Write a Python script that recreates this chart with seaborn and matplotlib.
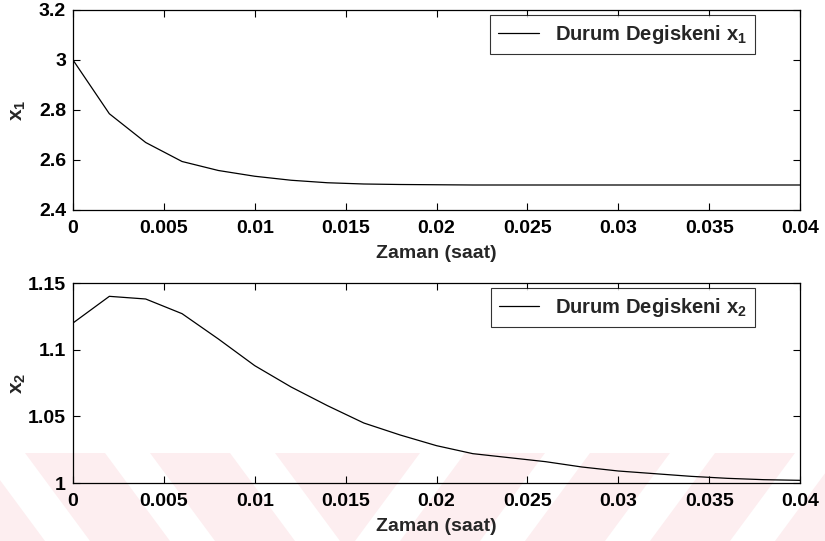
import numpy as np
import pandas as pd
import seaborn as sns
import matplotlib.pyplot as plt
from matplotlib.patches import Polygon
from matplotlib.ticker import FuncFormatter

# time samples (saat) and the two state variables
zaman = [0.000, 0.002, 0.004, 0.006, 0.008, 0.010, 0.012, 0.014, 0.016, 0.018,
         0.020, 0.022, 0.024, 0.026, 0.028, 0.030, 0.032, 0.034, 0.036, 0.038, 0.040]
x1 = [3.000, 2.785, 2.670, 2.594, 2.558, 2.535, 2.519, 2.509, 2.504, 2.502,
      2.501, 2.500, 2.500, 2.500, 2.500, 2.500, 2.500, 2.500, 2.500, 2.500, 2.500]
x2 = [1.120, 1.140, 1.138, 1.127, 1.108, 1.088, 1.072, 1.058, 1.045, 1.036,
      1.028, 1.022, 1.019, 1.016, 1.012, 1.009, 1.007, 1.005, 1.0035, 1.0025, 1.002]

xticks = [0, 0.005, 0.01, 0.015, 0.02, 0.025, 0.03, 0.035, 0.04]
yticks_top = [2.4, 2.6, 2.8, 3.0, 3.2]
yticks_bot = [1.0, 1.05, 1.1, 1.15]

df = pd.DataFrame({"zaman": zaman, "x1": x1, "x2": x2})

sns.set_style("ticks")
plt.rcParams["font.family"] = ["Liberation Sans", "DejaVu Sans"]
plt.rcParams["font.weight"] = "bold"
plt.rcParams["mathtext.fontset"] = "custom"
plt.rcParams["mathtext.rm"] = "Liberation Sans:bold"
plt.rcParams["mathtext.it"] = "Liberation Sans:bold"
plt.rcParams["mathtext.default"] = "rm"

fig = plt.figure(figsize=(8.25, 5.41), dpi=100)

# faint watermark along the bottom of the page (pink bands, white diagonal gaps)
pink = "#fdeef0"
band = Polygon([[0, 88 / 541], [1, 88 / 541], [1, 0], [0, 0]], closed=True,
               transform=fig.transFigure, facecolor=pink, edgecolor="none", zorder=-20)
fig.patches.append(band)
for x0 in [-20, 105, 230]:
    fig.patches.append(Polygon([[x0 / 825, 88 / 541], [(x0 + 45) / 825, 88 / 541],
                                [(x0 + 110) / 825, 0], [(x0 + 65) / 825, 0]],
                               closed=True, transform=fig.transFigure,
                               facecolor="white", edgecolor="none", zorder=-19))
for x0 in [420, 545, 670, 795]:
    fig.patches.append(Polygon([[x0 / 825, 88 / 541], [(x0 + 45) / 825, 88 / 541],
                                [(x0 - 20) / 825, 0], [(x0 - 65) / 825, 0]],
                               closed=True, transform=fig.transFigure,
                               facecolor="white", edgecolor="none", zorder=-19))

ax1 = fig.add_axes([73 / 825, 1 - 210 / 541, 727 / 825, 200 / 541])
ax2 = fig.add_axes([73 / 825, 1 - 483 / 541, 727 / 825, 200 / 541])

panels = [(ax1, "x1", yticks_top, "x$_1$", "Durum Degiskeni x$_1$"),
          (ax2, "x2", yticks_bot, "x$_2$", "Durum Degiskeni x$_2$")]

fmt = FuncFormatter(lambda v, p: "%g" % round(v, 4))

for ax, col, yt, ylab, leg in panels:
    ax.patch.set_alpha(0)
    sns.lineplot(data=df, x="zaman", y=col, ax=ax, color="black", linewidth=0.9,
                 label=leg)
    ax.set_xlim(0, 0.04)
    ax.set_ylim(yt[0], yt[-1])
    ax.set_xticks(xticks)
    ax.set_yticks(yt)
    ax.xaxis.set_major_formatter(fmt)
    ax.yaxis.set_major_formatter(fmt)
    ax.tick_params(axis="x", pad=7)
    ax.tick_params(direction="in", length=5, width=0.8, top=True, right=True,
                   labelsize=14, colors="black")
    ax.tick_params(axis="y", pad=5)
    for s in ax.spines.values():
        s.set_linewidth(0.9)
        s.set_color("black")
    ax.set_xlabel("Zaman (saat)", fontsize=14, fontweight="bold", labelpad=6)
    ax.set_ylabel(ylab, fontsize=15, fontweight="bold")
    ax.yaxis.set_label_coords(-0.062, 0.5)
    lg = ax.legend(loc="upper right", bbox_to_anchor=(0.938, 0.975), borderaxespad=0,
                   fontsize=14.5, frameon=True, fancybox=False, handlelength=2.0,
                   handletextpad=0.8, borderpad=0.4)
    lg.get_frame().set_edgecolor("black")
    lg.get_frame().set_linewidth(0.8)

plt.savefig("out.png", dpi=100)
